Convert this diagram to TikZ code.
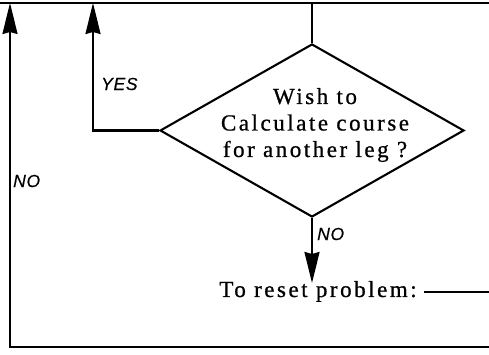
\documentclass[tikz,border=0pt]{standalone}
\usepackage{fontspec}
\newfontfamily\boxfont[LetterSpace=11,FakeBold=0.8]{Liberation Serif}
\newfontfamily\tagfont[LetterSpace=4,FakeBold=0.4]{Liberation Sans}
\usetikzlibrary{arrows.meta,positioning,shapes.geometric}

\begin{document}
\begin{tikzpicture}[x=1pt,y=1pt,
  line/.style={line width=2.1pt},
  arr/.style={line width=2.1pt,-{Stealth[length=31pt,width=15pt,inset=2pt]}},
  tag/.style={font=\tagfont\itshape\fontsize{17.5}{17.5}\selectfont,inner sep=0pt,anchor=west},
  txt/.style={font=\boxfont\fontsize{23}{26.5}\selectfont,inner sep=0pt},
  question/.style={diamond,draw,line width=2.1pt,minimum width=304pt,
                   minimum height=173pt,inner sep=0pt}]
\useasboundingbox (0,0) rectangle (489,355);
%% frame corners
\coordinate (topl) at (0,352);
\coordinate (topr) at (489,352);
\coordinate (botl) at (10,8);
\coordinate (botr) at (489,8);
\coordinate (nohead) at (10,352);
\coordinate (yeshead) at (93,352);
\coordinate (yescorner) at (93,224.5);
\coordinate (resethead) at (312,72);
\coordinate (resetend) at (489,63);
%% decision box
\node[question] (ask) at (312,224.5) {};
\node[txt,align=center] (asktxt) at (315,230)
  {Wish to\\Calculate course\\for another leg ?};
\node[txt,anchor=base] (reset) at (318,58) {To reset problem:};
\coordinate (intop) at (ask.north |- topl);
%% lines
\draw[line] (topl) -- (topr);
\draw[line] (intop) -- (ask.north);
\draw[arr] (botr) -- (botl) -- (nohead);
\draw[arr] (ask.west) -- (yescorner) -- (yeshead);
\draw[arr] (ask.south) -- (resethead);
\draw[line] ([xshift=7pt,yshift=5pt]reset.base east) -- (resetend);
%% labels
\node[tag] (yes) at (101,271) {YES};
\node[tag] (noleft) at (13,174) {NO};
\node[tag] (nodown) at (317,121) {NO};
\end{tikzpicture}
\end{document}
